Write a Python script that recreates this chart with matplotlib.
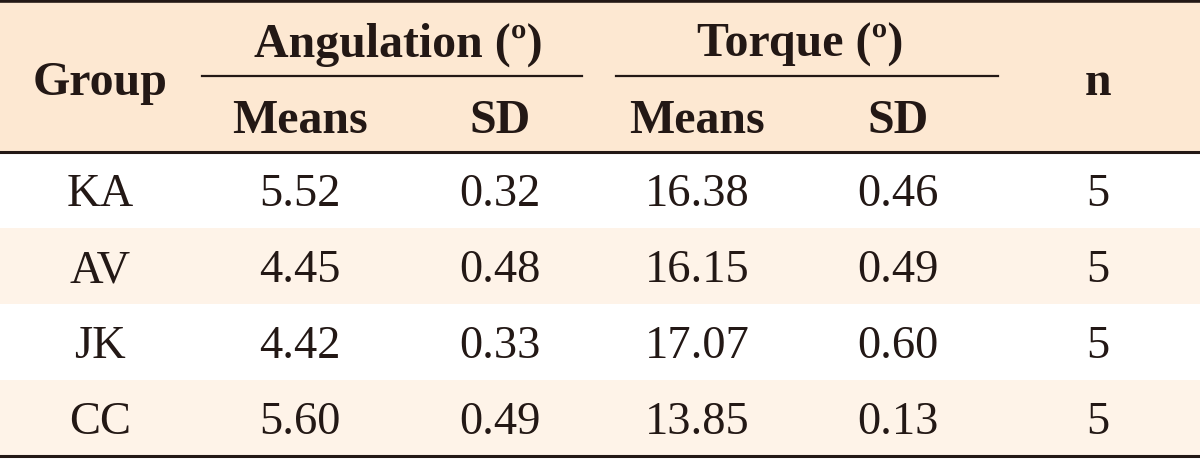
import matplotlib.pyplot as plt
import matplotlib.patches as patches

plt.rcParams['font.family'] = ['Liberation Serif', 'DejaVu Serif']

# table data
groups = ["KA", "AV", "JK", "CC"]
ang_means = ["5.52", "4.45", "4.42", "5.60"]
ang_sd = ["0.32", "0.48", "0.33", "0.49"]
tor_means = ["16.38", "16.15", "17.07", "13.85"]
tor_sd = ["0.46", "0.49", "0.60", "0.13"]
n_vals = ["5", "5", "5", "5"]

top_headers = ["Angulation (º)", "Torque (º)"]
sub_headers = ["Means", "SD", "Means", "SD"]

ink = '#231815'
head_bg = '#FDE8D2'
alt_bg = '#FEF3E8'

fig = plt.figure(figsize=(12, 4.6), dpi=100)
ax = fig.add_axes([0, 0, 1, 1])
ax.set_xlim(0, 1200)
ax.set_ylim(460, 0)
ax.axis('off')

col_x = [100, 300, 500, 697, 898, 1098]
head_top, head_bot = 3, 153
row_h = 76
row_top = [153 + i * row_h for i in range(len(groups))]

# backgrounds
ax.add_patch(patches.Rectangle((0, head_top), 1200, head_bot - head_top, fc=head_bg, ec='none'))
for i, y in enumerate(row_top):
    if i % 2 == 1:
        ax.add_patch(patches.Rectangle((0, y), 1200, row_h, fc=alt_bg, ec='none'))

# rules
ax.plot([0, 1200], [2, 2], color=ink, lw=2.6)
ax.plot([0, 1200], [head_bot, head_bot], color=ink, lw=2.2)
ax.plot([0, 1200], [row_top[-1] + row_h, row_top[-1] + row_h], color=ink, lw=2.2)
ax.plot([202, 582], [77, 77], color=ink, lw=1.6)
ax.plot([616, 998], [77, 77], color=ink, lw=1.6)

hkw = dict(ha='center', va='center', fontsize=34.5, fontweight='bold', color=ink)
ax.text(col_x[0], 83, "Group", **hkw)
ax.text(col_x[5], 83, "n", **hkw)
ax.text(398, 45, top_headers[0], **hkw)
ax.text(800, 45, top_headers[1], **hkw)
for x, s in zip(col_x[1:5], sub_headers):
    ax.text(x, 121, s, **hkw)

bkw = dict(ha='center', va='center', fontsize=33.5, color=ink)
cols = [groups, ang_means, ang_sd, tor_means, tor_sd, n_vals]
for i, y in enumerate(row_top):
    for x, col in zip(col_x, cols):
        ax.text(x, y + row_h / 2 + 4, col[i], **bkw)

plt.savefig("out.png", dpi=100, facecolor='white')
plt.close()
